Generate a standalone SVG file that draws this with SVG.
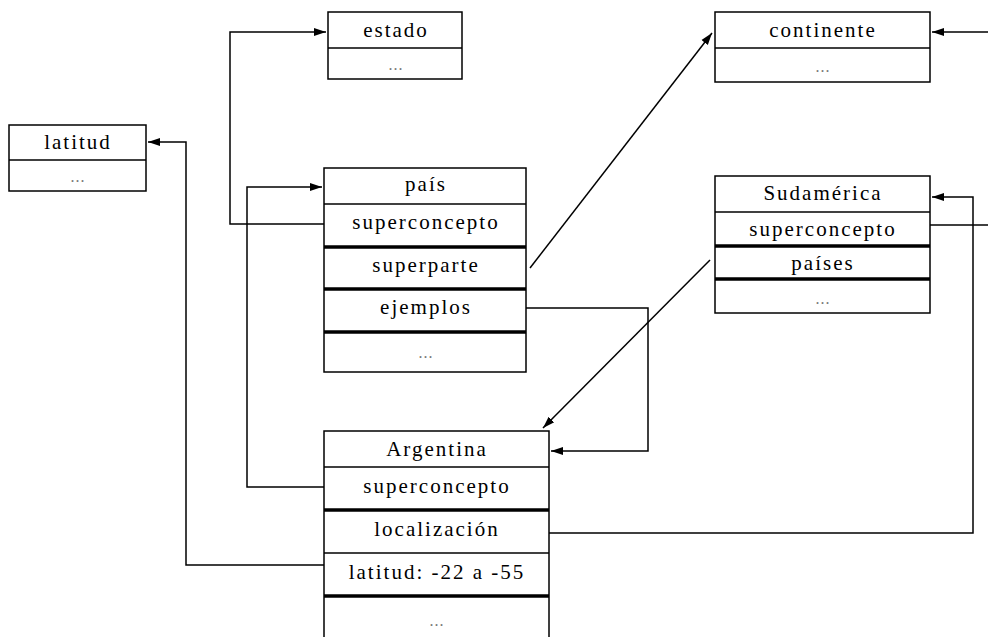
<svg xmlns="http://www.w3.org/2000/svg" width="988" height="637" viewBox="0 0 988 637">
<style>
.box{fill:#fff;stroke:#000;stroke-width:1.5}
.div{stroke:#000;stroke-width:1.5}
.thick{stroke:#000;stroke-width:3.5}
.t{font-family:"Liberation Serif","Times New Roman",serif;font-size:21px;letter-spacing:2px;fill:#000;text-anchor:middle}
.e{font-family:"Liberation Serif","Times New Roman",serif;font-size:16px;letter-spacing:1px;fill:#777;text-anchor:middle}
.c{fill:none;stroke:#000;stroke-width:1.5}
</style>
<defs>
<marker id="ah" viewBox="0 0 12 10" refX="12" refY="5" markerWidth="12" markerHeight="10" markerUnits="userSpaceOnUse" orient="auto">
<path d="M0,1 L12,5 L0,9 Z" fill="#000"/>
</marker>
</defs>
<rect width="988" height="637" fill="#fff"/>
<g id="connectors">
<polyline class="c" points="324,224 230,224 230,32 326,32" marker-end="url(#ah)"/>
<polyline class="c" points="324,487 247,487 247,187 322,187" marker-end="url(#ah)"/>
<polyline class="c" points="324,565 186,565 186,142 148,142" marker-end="url(#ah)"/>
<line class="c" x1="530" y1="268" x2="712" y2="33" marker-end="url(#ah)"/>
<line class="c" x1="988" y1="32" x2="932" y2="32" marker-end="url(#ah)"/>
<polyline class="c" points="526,308 648,308 648,451 551,451" marker-end="url(#ah)"/>
<line class="c" x1="710" y1="260" x2="543" y2="428" marker-end="url(#ah)"/>
<line class="c" x1="930" y1="225" x2="988" y2="225"/>
<polyline class="c" points="549,533 973,533 973,197 932,197" marker-end="url(#ah)"/>
</g>
<g id="estado">
<rect class="box" x="328" y="12" width="134" height="67"/>
<line class="div" x1="328" y1="48" x2="462" y2="48"/>
<text class="t" x="396" y="37">estado</text>
<text class="e" x="396" y="70">...</text>
</g>
<g id="latitud">
<rect class="box" x="9" y="125" width="137" height="66"/>
<line class="div" x1="9" y1="160" x2="146" y2="160"/>
<text class="t" x="78" y="149">latitud</text>
<text class="e" x="78" y="182">...</text>
</g>
<g id="continente">
<rect class="box" x="715" y="12" width="215" height="70"/>
<line class="div" x1="715" y1="48" x2="930" y2="48"/>
<text class="t" x="823" y="37">continente</text>
<text class="e" x="823" y="72">...</text>
</g>
<g id="pais">
<rect class="box" x="324" y="168" width="202" height="204"/>
<line class="div" x1="324" y1="204" x2="526" y2="204"/>
<line class="thick" x1="324" y1="247" x2="526" y2="247"/>
<line class="thick" x1="324" y1="289" x2="526" y2="289"/>
<line class="thick" x1="324" y1="332" x2="526" y2="332"/>
<text class="t" x="426" y="191">país</text>
<text class="t" x="426" y="229">superconcepto</text>
<text class="t" x="426" y="272">superparte</text>
<text class="t" x="426" y="314">ejemplos</text>
<text class="e" x="426" y="358">...</text>
</g>
<g id="sudamerica">
<rect class="box" x="715" y="176" width="215" height="137"/>
<line class="div" x1="715" y1="212" x2="930" y2="212"/>
<line class="thick" x1="715" y1="246" x2="930" y2="246"/>
<line class="thick" x1="715" y1="279" x2="930" y2="279"/>
<text class="t" x="823" y="200">Sudamérica</text>
<text class="t" x="823" y="236">superconcepto</text>
<text class="t" x="823" y="270">países</text>
<text class="e" x="823" y="304">...</text>
</g>
<g id="argentina">
<rect class="box" x="324" y="431" width="225" height="215"/>
<line class="div" x1="324" y1="467" x2="549" y2="467"/>
<line class="thick" x1="324" y1="510" x2="549" y2="510"/>
<line class="div" x1="324" y1="553" x2="549" y2="553"/>
<line class="thick" x1="324" y1="596" x2="549" y2="596"/>
<text class="t" x="437" y="456">Argentina</text>
<text class="t" x="437" y="493">superconcepto</text>
<text class="t" x="437" y="536">localización</text>
<text class="t" x="437" y="579">latitud: -22 a -55</text>
<text class="e" x="437" y="626">...</text>
</g>
</svg>
